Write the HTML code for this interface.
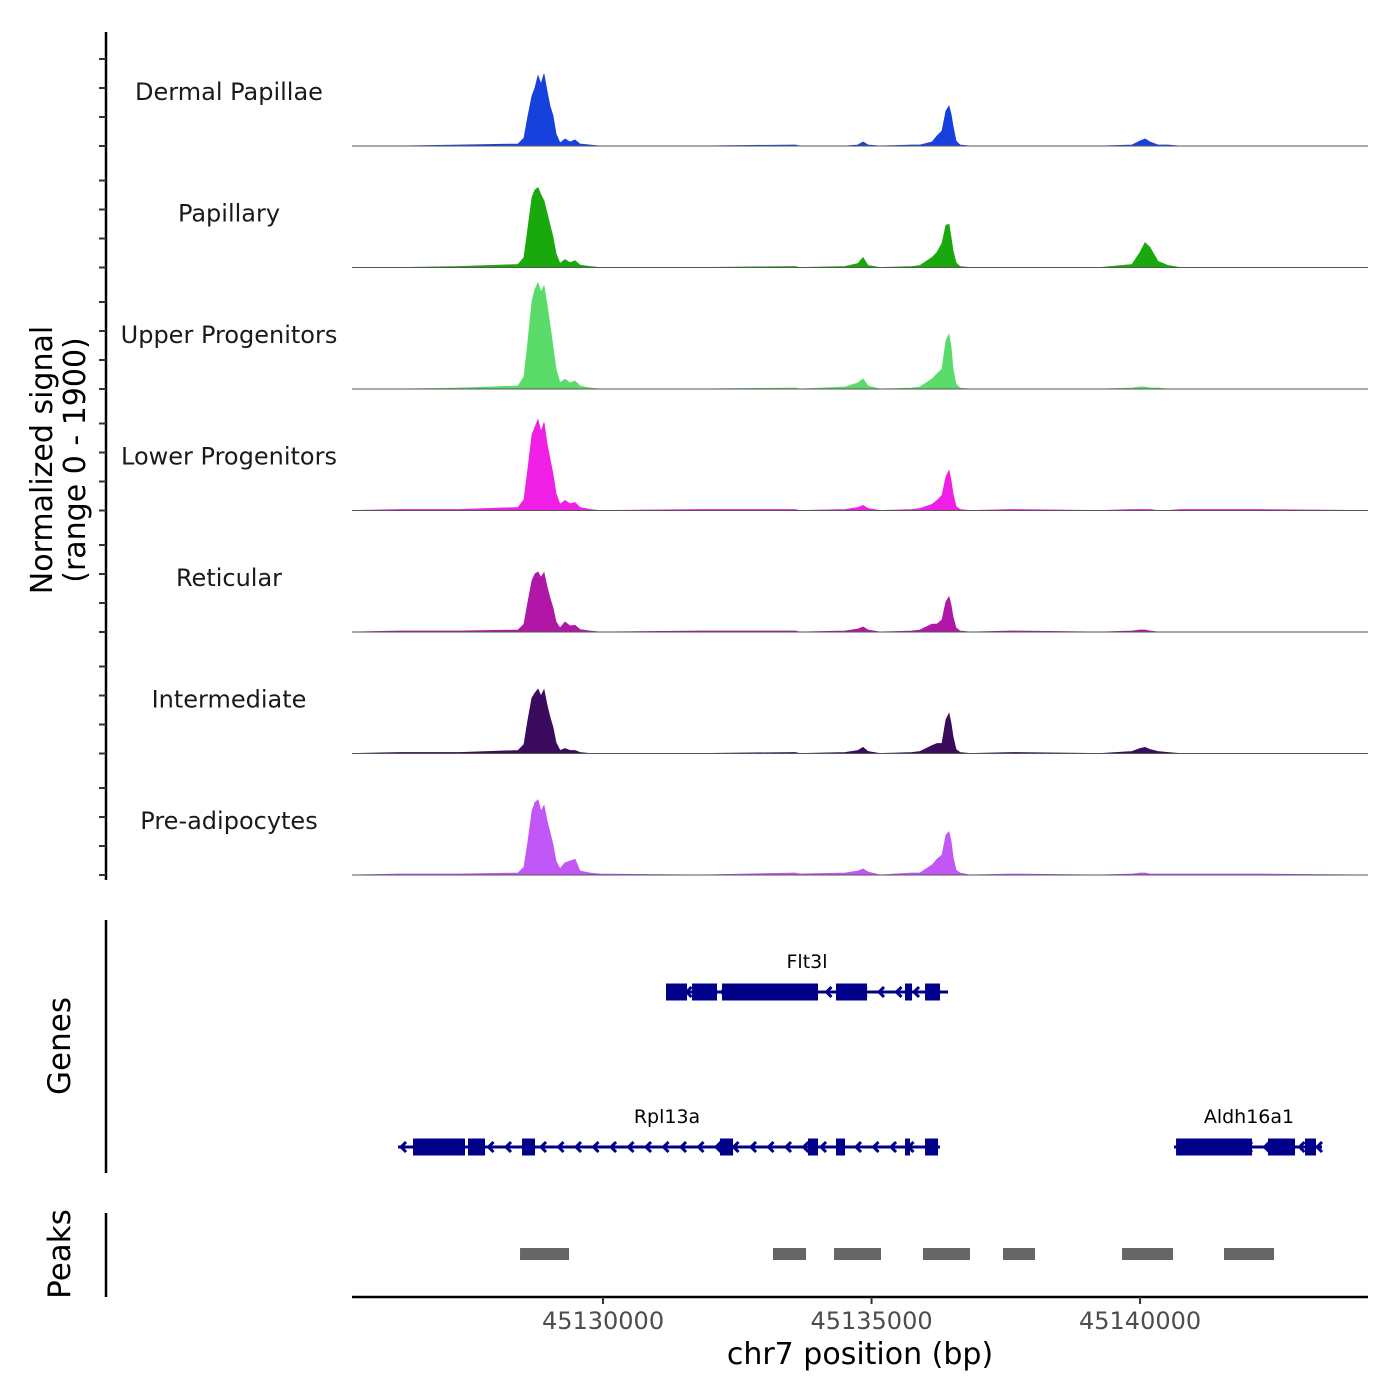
<!DOCTYPE html>
<html><head><meta charset="utf-8"><style>
html,body{margin:0;padding:0;background:#fff;}
svg{display:block;font-family:"DejaVu Sans","Liberation Sans",sans-serif;}
</style></head><body>
<svg id="chart" width="1400" height="1400" viewBox="0 0 1400 1400" xmlns="http://www.w3.org/2000/svg"></svg>
<script>
const trackNames = ["Dermal Papillae","Papillary","Upper Progenitors","Lower Progenitors","Reticular","Intermediate","Pre-adipocytes"];
const trackColors = ["#1741dd","#1aa90c","#5bdc6a","#f01fe6","#b117a6","#3b0b5e","#c157f7"];
const binPositions = [45125326,45126220,45127337,45128417,45128529,45128603,45128678,45128734,45128790,45128845,45128901,45128957,45129013,45129069,45129125,45129199,45129292,45129386,45129479,45129572,45129758,45129944,45131806,45133575,45133668,45134506,45134748,45134841,45134934,45135158,45135754,45135903,45136126,45136219,45136312,45136387,45136443,45136480,45136517,45136573,45136647,45136833,45137616,45139254,45139850,45139999,45140092,45140185,45140334,45140520,45140744,45142233,45144244];
const signalDP   = [0,0,16,33,132,500,830,960,1160,1020,1190,910,660,500,200,50,115,66,100,33,16,0,0,16,0,0,16,66,16,0,16,16,66,165,250,580,660,530,330,83,16,0,0,0,16,83,115,66,16,16,0,0,0];
const signalPap  = [0,0,16,50,165,660,1160,1280,1320,1200,1100,900,700,500,230,66,130,80,110,40,16,0,0,16,0,16,66,165,33,0,16,33,165,250,400,700,710,500,280,80,16,0,0,0,50,250,410,330,100,33,0,0,0];
const signalUP   = [0,0,16,50,200,800,1450,1650,1750,1600,1700,1400,1050,700,330,100,160,100,130,50,16,0,0,16,0,33,100,165,50,0,16,33,165,250,330,800,900,700,330,80,16,0,0,0,16,33,33,16,16,0,0,0,0];
const signalLP   = [0,16,16,50,180,700,1250,1380,1500,1300,1450,1100,850,600,280,100,165,110,130,50,16,0,16,16,0,16,50,83,33,0,16,33,100,165,250,560,660,500,280,66,16,0,16,0,16,16,16,16,0,0,16,16,0];
const signalRet  = [0,16,16,33,130,500,850,960,990,900,980,750,560,400,170,66,165,100,110,40,16,0,16,16,0,16,50,83,33,0,16,33,130,130,200,500,580,450,250,66,16,0,16,0,16,33,33,16,0,0,0,0,0];
const signalInt  = [0,16,16,50,150,560,920,1000,1060,950,1050,800,600,430,180,50,83,50,50,16,0,0,0,16,0,16,50,100,33,0,16,33,130,165,165,560,660,500,280,66,16,0,16,0,33,83,100,66,33,16,0,0,0];
const signalPre  = [0,16,16,33,130,560,1050,1200,1240,1050,1150,900,700,500,230,100,200,230,260,66,33,16,0,33,16,33,66,100,50,0,33,33,165,260,330,660,710,560,300,80,33,0,16,0,16,33,33,16,16,16,16,16,0];
const trackSignals = [signalDP,signalPap,signalUP,signalLP,signalRet,signalInt,signalPre];
const xTickValues = [45130000,45135000,45140000];
const xTickLabels = ["45130000","45135000","45140000"];
const peakStarts = [45128455,45133165,45134301,45135958,45137448,45139664,45141563];
const peakEnds   = [45129367,45133780,45135176,45136833,45138044,45140614,45142494];
const geneNames = ["Flt3l","Rpl13a","Aldh16a1"];
const geneStarts = [45131173,45126183,45140632];
const geneEnds   = [45136424,45136275,45143388];
const geneRows = [0,1,1];
const geneExons = [
  [[45131173,45131564],[45131657,45132123],[45132216,45134003],[45134338,45134916],[45135623,45135754],[45135996,45136275]],
  [[45126462,45127430],[45127486,45127803],[45128492,45128734],[45132178,45132421],[45133817,45134003],[45134338,45134506],[45135623,45135716],[45135996,45136238]],
  [[45140670,45142085],[45142382,45142885],[45143071,45143276]]
];

const NS="http://www.w3.org/2000/svg";
const svg=document.getElementById('chart');
function mk(tag,attrs,parent){const e=document.createElementNS(NS,tag);for(const k in attrs)e.setAttribute(k,attrs[k]);(parent||svg).appendChild(e);return e;}
const X0=45125326, X1=45144244, PX0=352, PX1=1368;
function xScale(bp){return PX0+(bp-X0)/(X1-X0)*(PX1-PX0);}
const trackH=121.5, base0=146, yMaxPx=115;
function yScale(v,i){return base0+i*trackH - v/1900*yMaxPx;}

let ax=mk('line',{x1:106,y1:32,x2:106,y2:880,stroke:'#000','stroke-width':2.5});

for(let i=0;i<7;i++){const b=base0+i*trackH;for(let k=0;k<4;k++){const t=mk('line',{x1:99,x2:106,y1:b-87+29*k,y2:b-87+29*k,stroke:'#333','stroke-width':2});}}
let yt=mk('text',{transform:'translate(52,460) rotate(-90)','text-anchor':'middle','font-size':30,fill:'#000'});

mk('tspan',{x:0,dy:0},yt).textContent='Normalized signal';
mk('tspan',{x:0,dy:33},yt).textContent='(range 0 - 1900)';

for(let i=0;i<7;i++){
  const g=mk('g',{});
  
  
  const b=base0+i*trackH;
  const vals=trackSignals[i];
  let d='M'+xScale(binPositions[0])+','+b;
  for(let j=0;j<binPositions.length;j++)d+=' L'+xScale(binPositions[j]).toFixed(1)+','+yScale(vals[j],i).toFixed(1);
  d+=' L'+xScale(binPositions[binPositions.length-1])+','+b+' Z';
  const p=mk('path',{d:d,fill:trackColors[i],stroke:trackColors[i],'stroke-width':0.8},g);
  
  const bl=mk('line',{x1:PX0,x2:PX1,y1:b,y2:b,stroke:'#555','stroke-width':1},g);
  
  const lb=mk('text',{x:229,y:b-46,'text-anchor':'middle','font-size':24,fill:'#1a1a1a'},g);
  
  lb.textContent=trackNames[i];
}

let ga=mk('line',{x1:106,y1:920,x2:106,y2:1173,stroke:'#000','stroke-width':2.5});

let gt=mk('text',{transform:'translate(70,1046) rotate(-90)','text-anchor':'middle','font-size':31,fill:'#000'});
gt.textContent='Genes';
const rowY=[992,1147];
const geneColor='#00008b';
const labelX=[807,667,1249];
for(let gi=0;gi<geneNames.length;gi++){
  const g=mk('g',{});
  
  
  const y=rowY[geneRows[gi]];
  const xs=xScale(geneStarts[gi]), xe=xScale(geneEnds[gi]);
  mk('line',{x1:xs,x2:xe,y1:y,y2:y,stroke:geneColor,'stroke-width':3},g);
  for(let ax2=xs+3;ax2<xe-4;ax2+=17.5){
    mk('polyline',{points:(ax2+5)+','+(y-5)+' '+ax2+','+y+' '+(ax2+5)+','+(y+5),fill:'none',stroke:geneColor,'stroke-width':3},g);
  }
  for(const ex of geneExons[gi]){
    const r=mk('rect',{x:xScale(ex[0]),y:y-8.5,width:xScale(ex[1])-xScale(ex[0]),height:17,fill:geneColor},g);
    
  }
  const lbl=mk('text',{x:labelX[gi],y:y-24,'text-anchor':'middle','font-size':19,fill:'#000'},g);
  
  lbl.textContent=geneNames[gi];
}

let pa=mk('line',{x1:106,y1:1213,x2:106,y2:1297,stroke:'#000','stroke-width':2.5});

let pt=mk('text',{transform:'translate(70,1254) rotate(-90)','text-anchor':'middle','font-size':31,fill:'#000'});
pt.textContent='Peaks';
for(let k=0;k<peakStarts.length;k++){
  const r=mk('rect',{x:xScale(peakStarts[k]),y:1248,width:xScale(peakEnds[k])-xScale(peakStarts[k]),height:12,fill:'#666'});
  
}

let xa=mk('line',{x1:PX0,x2:PX1,y1:1297,y2:1297,stroke:'#000','stroke-width':2.5});

for(let k=0;k<xTickValues.length;k++){
  const x=xScale(xTickValues[k]);
  const t=mk('line',{x1:x,x2:x,y1:1297,y2:1304,stroke:'#333','stroke-width':2});
  
  const l=mk('text',{x:x,y:1329,'text-anchor':'middle','font-size':24,fill:'#4d4d4d'});
  
  l.textContent=xTickLabels[k];
}
let xt=mk('text',{x:860,y:1364,'text-anchor':'middle','font-size':30,fill:'#000'});

xt.textContent='chr7 position (bp)';
</script>
</body></html>
